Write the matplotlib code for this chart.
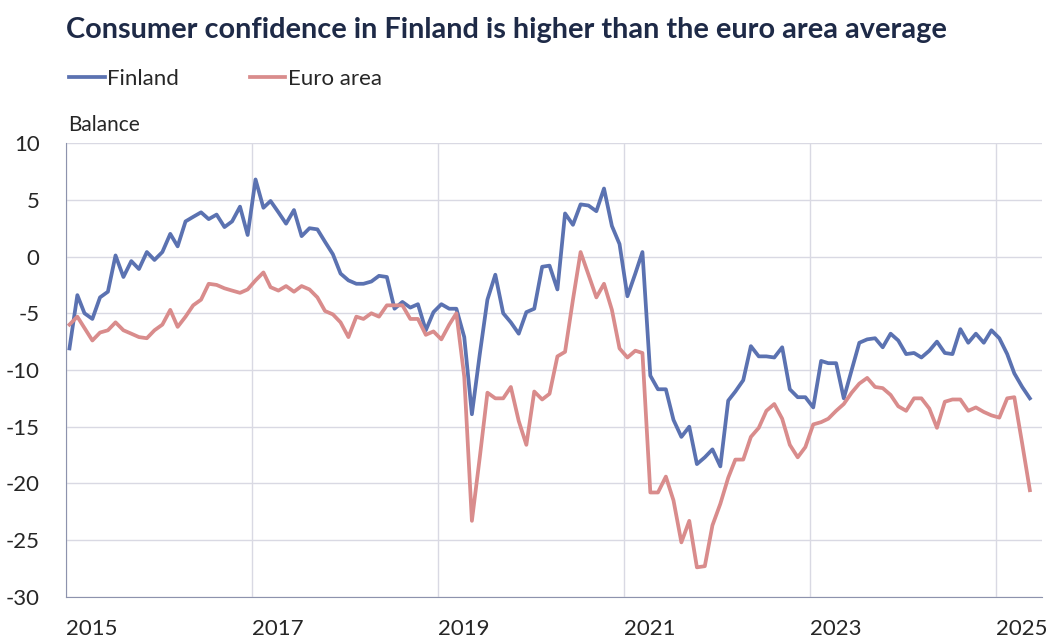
import matplotlib.pyplot as plt
import pandas as pd

# monthly balance, Jan 2015 - May 2025
finland = [
    -8.1, -3.4, -5.0, -5.5, -3.6, -3.1, 0.1, -1.8, -0.4, -1.1, 0.4, -0.3,
    0.4, 2.0, 0.9, 3.1, 3.5, 3.9, 3.3, 3.7, 2.6, 3.1, 4.4, 1.9,
    6.8, 4.3, 4.9, 3.9, 2.9, 4.1, 1.8, 2.5, 2.4, 1.3, 0.2, -1.5,
    -2.1, -2.4, -2.4, -2.2, -1.7, -1.8, -4.6, -4.0, -4.5, -4.2, -6.5, -4.9,
    -4.2, -4.6, -4.6, -7.1, -13.9, -8.6, -3.8, -1.6, -5.0, -5.8, -6.8, -4.9,
    -4.6, -0.9, -0.8, -2.9, 3.8, 2.8, 4.6, 4.5, 4.0, 6.0, 2.7, 1.1,
    -3.5, -1.5, 0.4, -10.5, -11.7, -11.7, -14.4, -15.9, -15.0, -18.3, -17.7, -17.0,
    -18.5, -12.7, -11.9, -10.9, -7.9, -8.8, -8.8, -8.9, -8.0, -11.7, -12.4, -12.4,
    -13.3, -9.2, -9.4, -9.4, -12.5, -10.0, -7.6, -7.3, -7.2, -8.0, -6.8, -7.4,
    -8.6, -8.5, -8.9, -8.3, -7.5, -8.5, -8.6, -6.4, -7.6, -6.8, -7.6, -6.5,
    -7.2, -8.6, -10.3, -11.5, -12.5,
]
euro_area = [
    -6.0, -5.3, -6.3, -7.4, -6.7, -6.5, -5.8, -6.5, -6.8, -7.1, -7.2, -6.5,
    -6.0, -4.7, -6.2, -5.3, -4.3, -3.8, -2.4, -2.5, -2.8, -3.0, -3.2, -2.9,
    -2.1, -1.4, -2.7, -3.0, -2.6, -3.1, -2.6, -2.9, -3.6, -4.8, -5.1, -5.8,
    -7.1, -5.3, -5.5, -5.0, -5.3, -4.3, -4.3, -4.3, -5.5, -5.5, -6.9, -6.6,
    -7.3, -6.0, -5.0, -10.6, -23.3, -17.7, -12.0, -12.5, -12.5, -11.5, -14.5, -16.6,
    -11.9, -12.6, -12.1, -8.8, -8.4, -3.8, 0.4, -1.6, -3.6, -2.4, -4.7, -8.1,
    -8.9, -8.3, -8.5, -20.8, -20.8, -19.4, -21.5, -25.2, -23.3, -27.4, -27.3, -23.7,
    -21.8, -19.5, -17.9, -17.9, -15.9, -15.1, -13.6, -13.0, -14.3, -16.6, -17.7, -16.8,
    -14.8, -14.6, -14.3, -13.6, -13.0, -12.0, -11.2, -10.7, -11.5, -11.6, -12.2, -13.2,
    -13.6, -12.5, -12.5, -13.4, -15.1, -12.8, -12.6, -12.6, -13.6, -13.3, -13.7, -14.0,
    -14.2, -12.5, -12.4, -16.5, -20.6,
]
months = pd.date_range("2015-01-01", periods=len(finland), freq="MS") + pd.Timedelta(days=14)

plt.rcParams["font.family"] = ["Lato", "DejaVu Sans"]
plt.rcParams["axes.unicode_minus"] = False
text_col = "#262626"

fig = plt.figure(figsize=(10.46, 6.39), dpi=100)
ax = fig.add_axes([0.063, 0.066, 0.933, 0.710])

ax.plot(months, finland, color="#5b72b1", linewidth=2.7, label="Finland")
ax.plot(months, euro_area, color="#d98c8c", linewidth=2.7, label="Euro area")

ax.set_ylim(-30, 10)
ax.set_yticks(range(-30, 11, 5))
ax.set_xlim(pd.Timestamp("2015-01-01"), pd.Timestamp("2025-07-01"))
ticks = [pd.Timestamp(f"{y}-01-01") for y in range(2015, 2026, 2)]
ax.set_xticks(ticks)
ax.set_xticklabels([str(t.year) for t in ticks], ha="left")

ax.grid(True, color="#d9d9e3", linewidth=1)
ax.set_axisbelow(True)
for s in ["top", "right"]:
    ax.spines[s].set_visible(False)
ax.spines["left"].set_color("#8d93ad")
ax.spines["bottom"].set_color("#8d93ad")
ax.tick_params(length=0, labelsize=16, colors=text_col)
ax.tick_params(axis="x", pad=16)
ax.tick_params(axis="y", pad=19)

fig.text(0.063, 0.953, "Consumer confidence in Finland is higher than the euro area average",
         fontsize=20.8, fontweight="bold", color="#1e2a47", va="center")
fig.text(0.065, 0.804, "Balance", fontsize=15, color=text_col, va="center")
fig.legend(loc="center left", bbox_to_anchor=(0.047, 0.876), ncol=2, frameon=False,
           fontsize=16, handlelength=1.6, handletextpad=0.1, columnspacing=3.2,
           labelcolor=text_col)

fig.savefig("out.png", dpi=100)
